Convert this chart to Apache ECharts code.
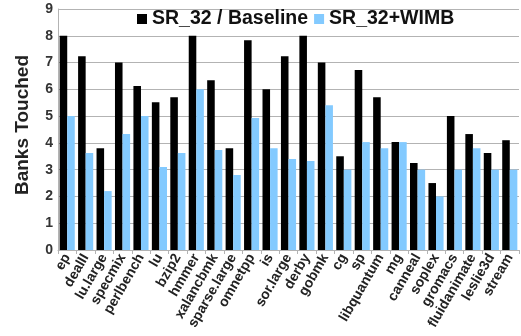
<!DOCTYPE html>
<html>
<head>
<meta charset="utf-8">
<script src="https://cdn.jsdelivr.net/npm/echarts@6/dist/echarts.min.js"></script>
<style>
  html, body { margin: 0; padding: 0; background: #fff; }
  #chart { width: 521px; height: 336px; }
</style>
</head>
<body>
<div id="chart"></div>
<script>
// Benchmarks along the x axis
const benchmarks = ['ep', 'dealII', 'lu.large', 'specmix', 'perlbench', 'lu', 'bzip2', 'hmmer',
  'xalancbmk', 'sparse.large', 'omnetpp', 'is', 'sor.large', 'derby', 'gobmk', 'cg', 'sp',
  'libquantum', 'mg', 'canneal', 'soplex', 'gromacs', 'fluidanimate', 'leslie3d', 'stream'];

// Average number of banks touched per configuration
const baseline = [8.0, 7.24, 3.8, 7.0, 6.12, 5.52, 5.7, 8.0, 6.34, 3.8, 7.83, 6.0, 7.24, 8.0, 7.0,
  3.5, 6.72, 5.7, 4.03, 3.25, 2.5, 5.0, 4.33, 3.62, 4.1];
const wimb = [5.0, 3.62, 2.2, 4.33, 5.0, 3.1, 3.62, 6.0, 3.73, 2.8, 4.93, 3.8, 3.4, 3.32, 5.41,
  3.0, 4.03, 3.8, 4.03, 3.0, 2.0, 3.0, 3.8, 3.0, 3.0];

const seriesNames = ['SR_32 / Baseline', 'SR_32+WIMB'];
const yTicks = [0, 9, 1];

const chart = echarts.init(document.getElementById('chart'), null, { renderer: 'canvas' });
const font = '"Liberation Sans", Arial, sans-serif';

chart.setOption({
  animation: false,
  textStyle: { fontFamily: font },
  grid: { left: 58, right: 2, top: 9, bottom: 86, containLabel: false },
  legend: {
    data: seriesNames,
    left: 137,
    top: 9,
    padding: 0,
    itemWidth: 10,
    itemHeight: 10,
    itemGap: 6,
    icon: 'rect',
    textStyle: { fontSize: 19.5, fontWeight: 'bold', color: '#111', fontFamily: font }
  },
  xAxis: {
    type: 'category',
    data: benchmarks,
    axisLine: { lineStyle: { color: '#b3b3b3', width: 1 } },
    axisTick: { show: true, alignWithLabel: false, length: 4, lineStyle: { color: '#b3b3b3' } },
    axisLabel: {
      interval: 0,
      rotate: 60,
      margin: 5,
      fontSize: 14,
      fontWeight: 'bold',
      color: '#222',
      fontFamily: font
    }
  },
  yAxis: {
    type: 'value',
    min: yTicks[0],
    max: yTicks[1],
    interval: yTicks[2],
    name: 'Banks Touched',
    nameLocation: 'middle',
    nameGap: 26,
    nameTextStyle: { fontSize: 19, fontWeight: 'bold', color: '#222', fontFamily: font, padding: [0, 0, 0, 9] },
    axisLine: { show: true, lineStyle: { color: '#b3b3b3', width: 1 } },
    axisTick: { show: false },
    axisLabel: { fontSize: 14, fontWeight: 'bold', color: '#333', margin: 5, fontFamily: font },
    splitLine: { lineStyle: { color: '#b3b3b3', width: 1 } }
  },
  series: [
    {
      name: seriesNames[0],
      type: 'bar',
      data: baseline,
      itemStyle: { color: '#000000' },
      barGap: '0%',
      barCategoryGap: '18%'
    },
    {
      name: seriesNames[1],
      type: 'bar',
      data: wimb,
      itemStyle: { color: '#83caff' },
      barGap: '0%',
      barCategoryGap: '18%'
    }
  ]
});
</script>
</body>
</html>
